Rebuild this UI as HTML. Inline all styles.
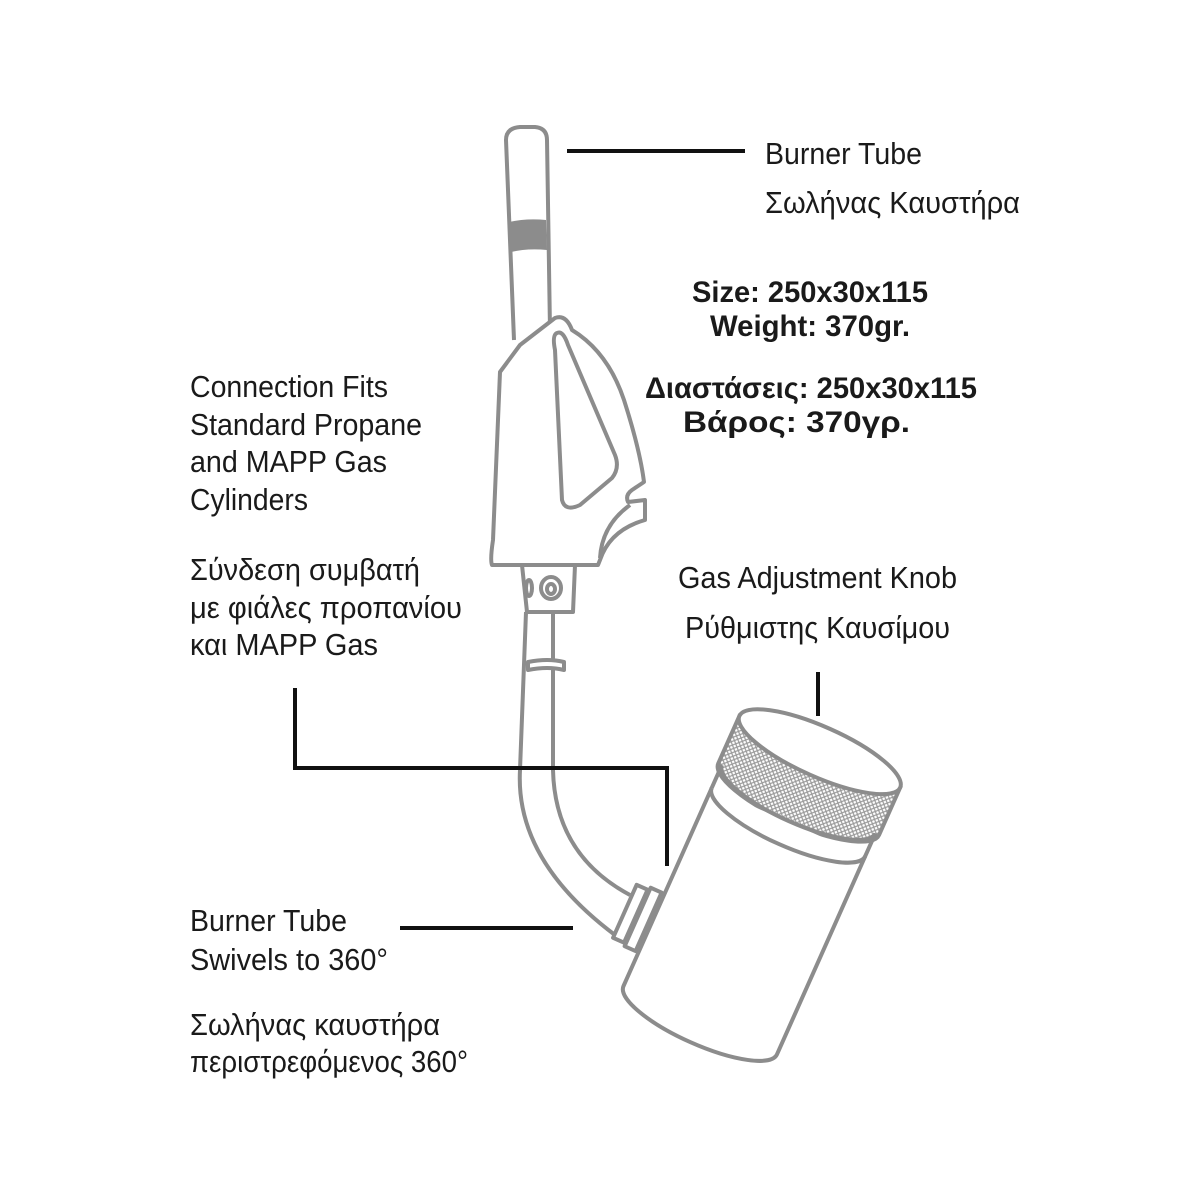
<!DOCTYPE html>
<html><head><meta charset="utf-8"><style>
html,body{margin:0;padding:0;background:#fff}
svg{display:block}
text{font-family:"Liberation Sans",sans-serif;font-size:31px;fill:#1a1a1a}
.b{font-weight:bold;font-size:30px}
</style></head><body>
<svg width="1200" height="1200" viewBox="0 0 1200 1200">
<g fill="none" stroke="#8c8c8c" stroke-width="4" stroke-linejoin="round">
<!-- top tube -->
<path d="M514 340 L506 140 Q506 128 520 127 L535 127 Q547 128 547 140 L550 330" fill="#fff"/>
<path d="M509 222 Q527 218 546 220 L547 250 Q528 248 511 252 Z" fill="#8c8c8c" stroke="none"/>
<!-- handle -->
<path d="M520 345 L555 318 Q566 314 572 330 Q608 352 624 400 Q640 450 644 482 L632 490 Q625 495 628 502 L645 500 L645 520 Q610 530 600 560 L598 565 L492 565 Q490 560 493 540 L500 372 Z" fill="#fff"/>
<path d="M557 333 Q552 335 555 350 L562 500 Q565 512 580 505 L612 478 Q620 468 615 455 L568 345 Q563 330 557 333 Z"/>
<path d="M600 558 Q602 525 630 505"/>
<!-- connector -->
<path d="M522 565 L527 612 L573 612 L575 565"/>
<ellipse cx="551" cy="588" rx="10" ry="11"/><ellipse cx="551" cy="589" rx="4" ry="5"/>
<ellipse cx="529" cy="588" rx="3" ry="8"/>
<path d="M526 612 L520 770 Q515 860 615 935 M553 612 L553 770 Q555 855 630 895"/>
<path d="M528 662 Q548 658 564 662 L564 670 Q548 666 528 670 Z" fill="#fff"/>
<!-- coupling -->
<g transform="rotate(24 635 918)">
<rect x="623" y="887" width="12" height="58" fill="#fff"/>
<rect x="637" y="884" width="12" height="64" fill="#fff"/>
</g>
</g>
<!-- cylinder -->
<defs>
<pattern id="kn" width="5" height="5" patternUnits="userSpaceOnUse">
<rect width="5" height="5" fill="#fff"/><path d="M0 0L5 5M5 0L0 5" stroke="#9a9a9a" stroke-width="1.2"/>
</pattern>
</defs>
<g transform="translate(760 886) rotate(24)" fill="none" stroke="#8c8c8c" stroke-width="4">
<path d="M-88 -147 L-88 -95 A88 25 0 0 0 88 -95 L88 -147 Z" fill="url(#kn)"/>
<ellipse cx="0" cy="-147" rx="88" ry="25" fill="#fff"/>
<path d="M-84 -95 L-84 -70 A84 24 0 0 0 84 -70 L84 -95"/>
<path d="M-84 -70 L-84 147 A84 24 0 0 0 84 147 L84 -70" fill="#fff"/>
<path d="M-84 -70 A84 24 0 0 0 84 -70"/>
<path d="M-84 -95 A84 24 0 0 0 84 -95"/>
</g>
<!-- leader lines -->
<g stroke="#111" stroke-width="4" fill="none">
<path d="M567 151 H745"/>
<path d="M295 688 V768 H667 V866"/>
<path d="M818 672 V716"/>
<path d="M400 928 H573"/>
</g>
<!-- text -->
<text x="765" y="164" textLength="157" lengthAdjust="spacingAndGlyphs">Burner Tube</text>
<text x="765" y="213" textLength="255" lengthAdjust="spacingAndGlyphs">Σωλήνας Καυστήρα</text>
<text class="b" x="692" y="302" textLength="236" lengthAdjust="spacingAndGlyphs">Size: 250x30x115</text>
<text class="b" x="710" y="336" textLength="200" lengthAdjust="spacingAndGlyphs">Weight: 370gr.</text>
<text class="b" x="645" y="398" textLength="332" lengthAdjust="spacingAndGlyphs">Διαστάσεις: 250x30x115</text>
<text class="b" x="683" y="432" textLength="227" lengthAdjust="spacingAndGlyphs">Βάρος: 370γρ.</text>
<text x="190" y="397" textLength="198" lengthAdjust="spacingAndGlyphs">Connection Fits</text>
<text x="190" y="435" textLength="232" lengthAdjust="spacingAndGlyphs">Standard Propane</text>
<text x="190" y="472" textLength="197" lengthAdjust="spacingAndGlyphs">and MAPP Gas</text>
<text x="190" y="510" textLength="118" lengthAdjust="spacingAndGlyphs">Cylinders</text>
<text x="190" y="580" textLength="230" lengthAdjust="spacingAndGlyphs">Σύνδεση συμβατή</text>
<text x="190" y="618" textLength="272" lengthAdjust="spacingAndGlyphs">με φιάλες προπανίου</text>
<text x="190" y="655" textLength="188" lengthAdjust="spacingAndGlyphs">και MAPP Gas</text>
<text x="678" y="588" textLength="279" lengthAdjust="spacingAndGlyphs">Gas Adjustment Knob</text>
<text x="685" y="638" textLength="265" lengthAdjust="spacingAndGlyphs">Ρύθμιστης Καυσίμου</text>
<text x="190" y="931" textLength="157" lengthAdjust="spacingAndGlyphs">Burner Tube</text>
<text x="190" y="970" textLength="198" lengthAdjust="spacingAndGlyphs">Swivels to 360°</text>
<text x="190" y="1035" textLength="250" lengthAdjust="spacingAndGlyphs">Σωλήνας καυστήρα</text>
<text x="190" y="1072" textLength="278" lengthAdjust="spacingAndGlyphs">περιστρεφόμενος 360°</text>
</svg>
</body></html>
